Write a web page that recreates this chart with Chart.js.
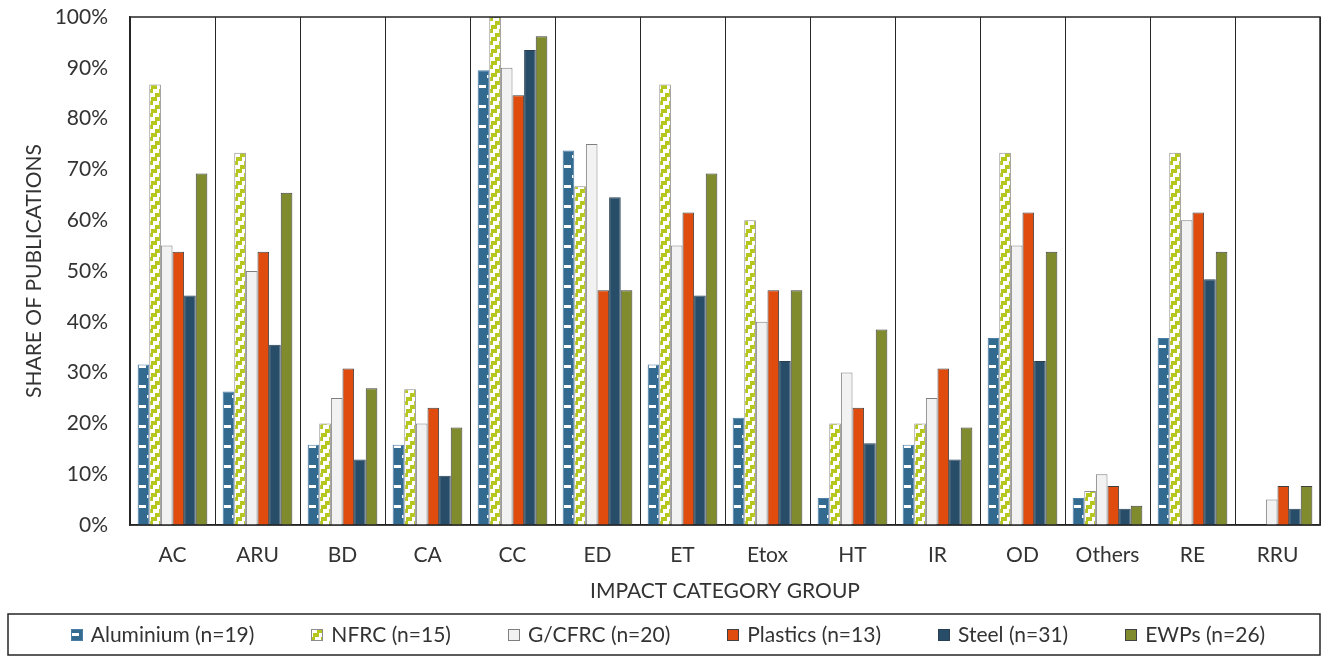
<!DOCTYPE html>
<html>
<head>
<meta charset="utf-8">
<script src="https://cdn.jsdelivr.net/npm/chart.js@4.4.1/dist/chart.umd.min.js"></script>
<style>
  html, body { margin: 0; padding: 0; background: #fff; }
</style>
</head>
<body>
<canvas id="chart" width="1325" height="657"></canvas>
<script>
const categories = ['AC', 'ARU', 'BD', 'CA', 'CC', 'ED', 'ET', 'Etox', 'HT', 'IR', 'OD', 'Others', 'RE', 'RRU'];
const seriesNames = ['Aluminium (n=19)', 'NFRC (n=15)', 'G/CFRC (n=20)', 'Plastics (n=13)', 'Steel (n=31)', 'EWPs (n=26)'];

// share of publications, %
const aluminium = [31.6, 26.3, 15.8, 15.8, 89.5, 73.7, 31.6, 21.1, 5.3, 15.8, 36.8, 5.3, 36.8, 0];
const nfrc      = [86.7, 73.3, 20.0, 26.7, 100, 66.7, 86.7, 60.0, 20.0, 20.0, 73.3, 6.7, 73.3, 0];
const gcfrc     = [55.0, 50.0, 25.0, 20.0, 90.0, 75.0, 55.0, 40.0, 30.0, 25.0, 55.0, 10.0, 60.0, 5.0];
const plastics  = [53.8, 53.8, 30.8, 23.1, 84.6, 46.2, 61.5, 46.2, 23.1, 30.8, 61.5, 7.7, 61.5, 7.7];
const steel     = [45.2, 35.5, 12.9, 9.7, 93.5, 64.5, 45.2, 32.3, 16.1, 12.9, 32.3, 3.2, 48.4, 3.2];
const ewps      = [69.2, 65.4, 26.9, 19.2, 96.2, 46.2, 69.2, 46.2, 38.5, 19.2, 53.8, 3.8, 53.8, 7.7];

const yMax = 100;
const yStep = 10;

const FONT = 'Lato';
const FONT_SIZE = 21;
const TEXT = '#333333';
const CAT_PCT = 0.82;

// pattern tiles
function aluTile() {
    const c = document.createElement('canvas');
    c.width = 12; c.height = 20;
    const g = c.getContext('2d');
    g.fillStyle = '#336a90';
    g.fillRect(0, 0, 12, 20);
    g.fillStyle = '#ffffff';
    g.fillRect(1, 0, 7, 3);
    g.fillRect(9, 10, 2, 3);
    return c;
}

function nfrcTile() {
    const c = document.createElement('canvas');
    c.width = 12; c.height = 12;
    const g = c.getContext('2d');
    g.fillStyle = '#ffffff';
    g.fillRect(0, 0, 12, 12);
    g.fillStyle = '#b5c61c';
    // stair-stepped band rising to the right
    g.fillRect(6, 0, 6, 4);
    g.fillRect(2, 4, 6, 4);
    g.fillRect(10, 8, 2, 4);
    g.fillRect(0, 8, 4, 4);
    return c;
}

const tiles = { alu: aluTile(), nfrc: nfrcTile() };

// fill a bar with its pattern, lined up with the bar's left edge
function patternFill(tile, dsIndex, fallback) {
    return (c) => {
        const chart = c.chart;
        const xs = chart.scales.x;
        if (c.type !== 'data' || !xs || !xs.width) return fallback;
        const cw = xs.width / categories.length;
        const left = xs.getPixelForValue(c.dataIndex) - cw * CAT_PCT / 2 + dsIndex * cw * CAT_PCT / seriesNames.length;
        const p = chart.ctx.createPattern(tile, 'repeat');
        p.setTransform(new DOMMatrix().translate(Math.round(left), Math.round(chart.chartArea.bottom)));
        return p;
    };
}

const fills = [
    patternFill(tiles.alu, 0, '#336a90'),
    patternFill(tiles.nfrc, 1, '#b5c61c'),
    '#f2f2f2',
    '#e04b0e',
    '#274d68',
    '#7f8b2c'
];
const borders = ['#4a7ea6', '#8c8c8c', '#7f7f7f', '#404040', '#2a3f50', '#404040'];
const seriesData = [aluminium, nfrc, gcfrc, plastics, steel, ewps];

// frame around the plot area
const frame = {
    id: 'frame',
    afterDatasetsDraw(chart) {
        const { ctx, chartArea: a } = chart;
        ctx.save();
        ctx.strokeStyle = '#262626';
        ctx.lineWidth = 1.5;
        ctx.strokeRect(a.left, a.top, a.right - a.left, a.bottom - a.top);
        ctx.restore();
    }
};

// boxed legend along the bottom
const boxLegend = {
    id: 'boxLegend',
    afterDraw(chart) {
        const ctx = chart.ctx;
        const boxTop = chart.height - 43, boxBottom = chart.height - 2;
        const boxLeft = 8, boxRight = 1320;
        ctx.save();
        ctx.strokeStyle = '#262626';
        ctx.lineWidth = 1.5;
        ctx.strokeRect(boxLeft, boxTop, boxRight - boxLeft, boxBottom - boxTop);

        ctx.font = FONT_SIZE + 'px ' + FONT;
        const sw = 12, gapText = 8, gapItem = 57;
        const widths = seriesNames.map(n => ctx.measureText(n).width);
        const total = widths.reduce((s, w) => s + sw + gapText + w, 0) + gapItem * (seriesNames.length - 1);
        let x = 668 - total / 2;
        const cy = (boxTop + boxBottom) / 2;
        seriesNames.forEach((name, i) => {
            const sx = Math.round(x), sy = Math.round(cy - sw / 2);
            let fill = fills[i];
            if (typeof fill === 'function') {
                fill = ctx.createPattern(i === 0 ? tiles.alu : tiles.nfrc, 'repeat');
                fill.setTransform(new DOMMatrix().translate(sx, sy + (i === 0 ? 4 : 0)));
            }
            ctx.fillStyle = fill;
            ctx.fillRect(sx, sy, sw, sw);
            ctx.strokeStyle = borders[i];
            ctx.lineWidth = 1;
            ctx.strokeRect(sx + 0.5, sy + 0.5, sw - 1, sw - 1);
            ctx.fillStyle = TEXT;
            ctx.textBaseline = 'middle';
            ctx.textAlign = 'left';
            ctx.fillText(name, x + sw + gapText, cy + 1);
            x += sw + gapText + widths[i] + gapItem;
        });
        ctx.restore();
    }
};

Chart.defaults.font.family = FONT;
Chart.defaults.color = TEXT;

new Chart(document.getElementById('chart'), {
    type: 'bar',
    data: {
        labels: categories,
        datasets: seriesNames.map((name, i) => ({
            label: name,
            data: seriesData[i],
            backgroundColor: fills[i],
            borderColor: borders[i],
            borderWidth: 1,
            barPercentage: 1,
            categoryPercentage: CAT_PCT
        }))
    },
    options: {
        responsive: false,
        animation: false,
        layout: { padding: { left: 0, right: 5, top: 17, bottom: 52 } },
        plugins: {
            legend: { display: false },
            tooltip: { enabled: false }
        },
        scales: {
            x: {
                grid: { color: '#262626', lineWidth: 1, drawTicks: false, offset: true },
                border: { color: '#262626', width: 1.5 },
                ticks: { padding: 18, font: { size: FONT_SIZE }, color: TEXT },
                title: {
                    display: true,
                    text: 'IMPACT CATEGORY GROUP',
                    font: { size: FONT_SIZE },
                    color: TEXT,
                    padding: { top: 6, bottom: 1 }
                },
                afterFit(scale) {
                    scale.height = 80;
                    scale.paddingLeft = 0;
                    scale.paddingRight = 0;
                }
            },
            y: {
                min: 0,
                max: yMax,
                grid: { display: false, drawTicks: false },
                border: { color: '#262626', width: 1.5 },
                ticks: {
                    stepSize: yStep,
                    padding: 22,
                    font: { size: FONT_SIZE },
                    color: TEXT,
                    callback: v => v + '%'
                },
                title: {
                    display: true,
                    text: 'SHARE OF PUBLICATIONS',
                    font: { size: FONT_SIZE },
                    color: TEXT,
                    padding: { top: 22, bottom: 0 }
                },
                afterFit(scale) {
                    scale.width = 130;
                    scale.paddingTop = 0;
                    scale.paddingBottom = 0;
                }
            }
        }
    },
    plugins: [frame, boxLegend]
});
</script>
</body>
</html>
